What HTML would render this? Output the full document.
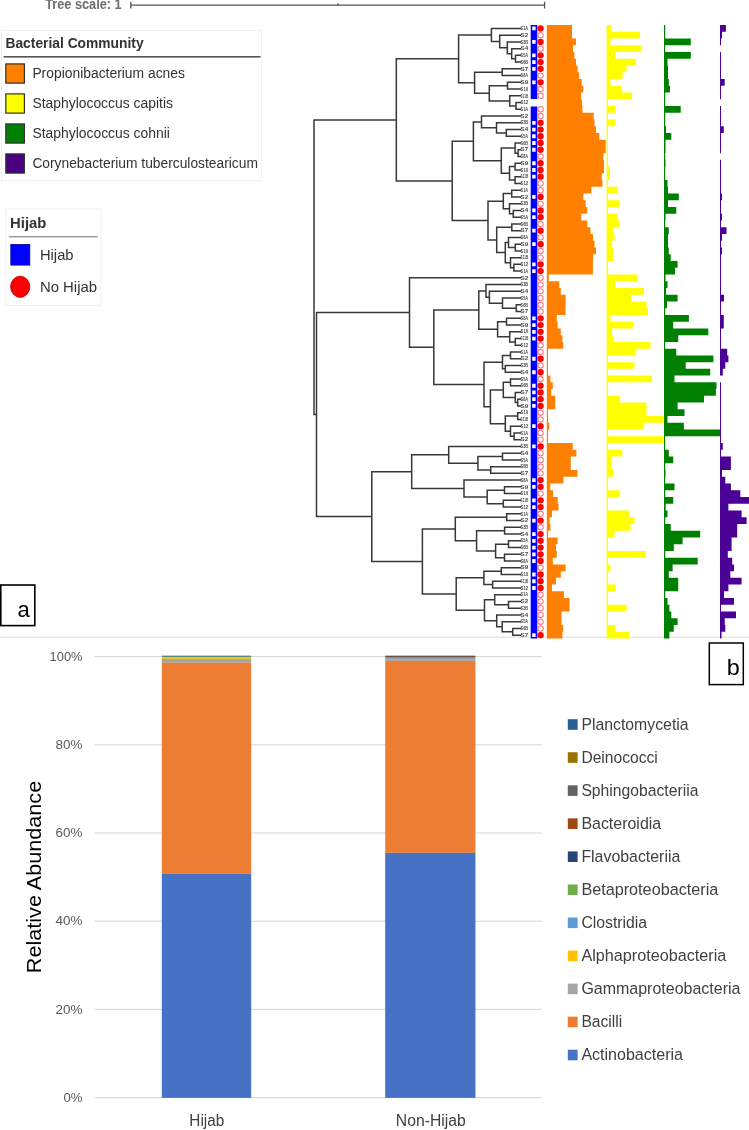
<!DOCTYPE html>
<html><head><meta charset="utf-8"><style>html,body{margin:0;padding:0;background:#fff;}body{width:749px;height:1130px;position:relative;overflow:hidden;}svg{position:absolute;left:0;top:0;display:block;}</style></head><body>
<svg width="749" height="1130" viewBox="0 0 749 1130" font-family="'Liberation Sans', sans-serif">
<rect x="0" y="636.6" width="749" height="1.1" fill="#e0e0e0"/>
<defs><filter id="bt" x="-2%" y="-2%" width="104%" height="104%"><feGaussianBlur stdDeviation="0.5"/></filter><filter id="bb" x="-2%" y="-2%" width="104%" height="104%"><feGaussianBlur stdDeviation="0.3"/></filter></defs>
<g filter="url(#bt)">
<path d="M130.5 5.2H545M130.8 1.8V8.6M544.6 1.8V8.6M338 3.2V6" stroke="#555" stroke-width="1.3" fill="none"/>
<text x="45.16" y="9.3" font-size="14" fill="#6e6e6e" font-weight="bold" textLength="76.48" lengthAdjust="spacingAndGlyphs" >Tree scale: 1</text>
<path d="M491.4 28.4H520.5M499.7 35.14H520.5M507.3 41.88H520.5M511.7 48.63H520.5M515.5 55.37H520.5M515.5 62.11H520.5M515.5 55.37V62.11M511.7 58.74H515.5M511.7 48.63V58.74M507.3 53.68H511.7M507.3 41.88V53.68M499.7 47.78H507.3M499.7 35.14V47.78M491.4 41.46H499.7M491.4 28.4V41.46M458.6 34.93H491.4M502.2 68.85H520.5M502.2 75.59H520.5M502.2 68.85V75.59M474.6 72.22H502.2M507.5 82.34H520.5M507.5 89.08H520.5M507.5 82.34V89.08M489.3 85.71H507.5M509.7 95.82H520.5M516 102.56H520.5M516 109.3H520.5M516 102.56V109.3M509.7 105.93H516M509.7 95.82V105.93M489.3 100.88H509.7M489.3 85.71V100.88M474.6 93.29H489.3M474.6 72.22V93.29M458.6 82.76H474.6M458.6 34.93V82.76M396.3 58.84H458.6M481.5 116.05H520.5M496.5 122.79H520.5M506.3 129.53H520.5M506.3 136.27H520.5M506.3 129.53V136.27M496.5 132.9H506.3M496.5 122.79V132.9M481.5 127.84H496.5M481.5 116.05V127.84M473.4 121.95H481.5M515.1 143.01H520.5M518.1 149.76H520.5M518.1 156.5H520.5M518.1 149.76V156.5M515.1 153.13H518.1M515.1 143.01V153.13M501.3 148.07H515.1M515.1 163.24H520.5M515.1 169.98H520.5M515.1 163.24V169.98M509.5 166.61H515.1M515.1 176.72H520.5M515.1 183.47H520.5M515.1 176.72V183.47M509.5 180.1H515.1M509.5 166.61V180.1M501.3 173.35H509.5M501.3 148.07V173.35M473.4 160.71H501.3M473.4 121.95V160.71M452.2 141.33H473.4M511.7 190.21H520.5M511.7 196.95H520.5M511.7 190.21V196.95M503.3 193.58H511.7M509.5 203.69H520.5M513.3 210.43H520.5M513.3 217.18H520.5M513.3 210.43V217.18M509.5 213.81H513.3M509.5 203.69V213.81M503.3 208.75H509.5M503.3 193.58V208.75M488 201.16H503.3M511.8 223.92H520.5M511.8 230.66H520.5M511.8 223.92V230.66M496.7 227.29H511.8M508.5 237.4H520.5M515.3 244.14H520.5M515.3 250.89H520.5M515.3 244.14V250.89M508.5 247.51H515.3M508.5 237.4V247.51M505.3 242.46H508.5M510.5 257.63H520.5M513.9 264.37H520.5M513.9 271.11H520.5M513.9 264.37V271.11M510.5 267.74H513.9M510.5 257.63V267.74M505.3 262.68H510.5M505.3 242.46V262.68M496.7 252.57H505.3M496.7 227.29V252.57M488 239.93H496.7M488 201.16V239.93M452.2 220.55H488M452.2 141.33V220.55M396.3 180.94H452.2M396.3 58.84V180.94M314 119.89H396.3M409.5 277.85H520.5M486 284.6H520.5M489.4 291.34H520.5M502.5 298.08H520.5M516.3 304.82H520.5M516.3 311.56H520.5M516.3 304.82V311.56M502.5 308.19H516.3M502.5 298.08V308.19M489.4 303.14H502.5M489.4 291.34V303.14M486 297.24H489.4M486 284.6V297.24M478.8 290.92H486M506.5 318.31H520.5M506.5 325.05H520.5M506.5 318.31V325.05M497.6 321.68H506.5M509.7 331.79H520.5M515.3 338.53H520.5M515.3 345.27H520.5M515.3 338.53V345.27M509.7 341.9H515.3M509.7 331.79V341.9M497.6 336.85H509.7M497.6 321.68V336.85M478.8 329.26H497.6M478.8 290.92V329.26M433.8 310.09H478.8M510.5 352.02H520.5M510.5 358.76H520.5M510.5 352.02V358.76M502.5 355.39H510.5M505.3 365.5H520.5M505.3 372.24H520.5M505.3 365.5V372.24M502.5 368.87H505.3M502.5 355.39V368.87M484 362.13H502.5M510.5 378.98H520.5M510.5 385.73H520.5M510.5 378.98V385.73M503.3 382.36H510.5M515.3 392.47H520.5M517.7 399.21H520.5M517.7 405.95H520.5M517.7 399.21V405.95M515.3 402.58H517.7M515.3 392.47V402.58M503.3 397.52H515.3M503.3 382.36V397.52M490.4 389.94H503.3M517.7 412.69H520.5M517.7 419.44H520.5M517.7 412.69V419.44M505.3 416.06H517.7M510.5 426.18H520.5M514.1 432.92H520.5M514.1 439.66H520.5M514.1 432.92V439.66M510.5 436.29H514.1M510.5 426.18V436.29M505.3 431.23H510.5M505.3 416.06V431.23M490.4 423.65H505.3M490.4 389.94V423.65M484 406.79H490.4M484 362.13V406.79M433.8 384.46H484M433.8 310.09V384.46M409.5 347.28H433.8M409.5 277.85V347.28M316.5 312.56H409.5M448.7 446.4H520.5M502.5 453.15H520.5M502.5 459.89H520.5M502.5 453.15V459.89M477.9 456.52H502.5M490.7 466.63H520.5M490.7 473.37H520.5M490.7 466.63V473.37M477.9 470H490.7M477.9 456.52V470M448.7 463.26H477.9M448.7 446.4V463.26M411.7 454.83H448.7M464 480.11H520.5M504.5 486.86H520.5M504.5 493.6H520.5M504.5 486.86V493.6M487.2 490.23H504.5M503.3 500.34H520.5M503.3 507.08H520.5M503.3 500.34V507.08M487.2 503.71H503.3M487.2 490.23V503.71M464 496.97H487.2M464 480.11V496.97M411.7 488.54H464M411.7 454.83V488.54M371.8 471.69H411.7M506.7 513.82H520.5M506.7 520.57H520.5M506.7 513.82V520.57M455.3 517.19H506.7M504.6 527.31H520.5M504.6 534.05H520.5M504.6 527.31V534.05M476.6 530.68H504.6M508.5 540.79H520.5M508.5 547.53H520.5M508.5 540.79V547.53M495.6 544.16H508.5M504.5 554.28H520.5M504.5 561.02H520.5M504.5 554.28V561.02M495.6 557.65H504.5M495.6 544.16V557.65M476.6 550.9H495.6M476.6 530.68V550.9M455.3 540.79H476.6M455.3 517.19V540.79M422.4 528.99H455.3M501.3 567.76H520.5M501.3 574.5H520.5M501.3 567.76V574.5M483.9 571.13H501.3M492.6 581.24H520.5M492.6 587.99H520.5M492.6 581.24V587.99M483.9 584.62H492.6M483.9 571.13V584.62M456.2 577.87H483.9M494.7 594.73H520.5M508.5 601.47H520.5M508.5 608.21H520.5M508.5 601.47V608.21M494.7 604.84H508.5M494.7 594.73V604.84M484.5 599.78H494.7M496.7 614.95H520.5M502.2 621.7H520.5M512.7 628.44H520.5M512.7 635.18H520.5M512.7 628.44V635.18M502.2 631.81H512.7M502.2 621.7V631.81M496.7 626.75H502.2M496.7 614.95V626.75M484.5 620.85H496.7M484.5 599.78V620.85M456.2 610.32H484.5M456.2 577.87V610.32M422.4 594.1H456.2M422.4 528.99V594.1M371.8 561.54H422.4M371.8 471.69V561.54M316.5 516.62H371.8M316.5 312.56V516.62M314 414.59H316.5M314 119.89V414.59" stroke="#383838" stroke-width="1.5" fill="none" stroke-linecap="square"/>
<g font-size="4.9" font-weight="bold" fill="#444c48"><text x="520.6" y="30.1" textLength="7.6" lengthAdjust="spacingAndGlyphs">S1A</text><text x="520.6" y="36.84" textLength="7.6" lengthAdjust="spacingAndGlyphs">S2</text><text x="520.6" y="43.58" textLength="7.6" lengthAdjust="spacingAndGlyphs">S3B</text><text x="520.6" y="50.33" textLength="7.6" lengthAdjust="spacingAndGlyphs">S4</text><text x="520.6" y="57.07" textLength="7.6" lengthAdjust="spacingAndGlyphs">S5A</text><text x="520.6" y="63.81" textLength="7.6" lengthAdjust="spacingAndGlyphs">S6B</text><text x="520.6" y="70.55" textLength="7.6" lengthAdjust="spacingAndGlyphs">S7</text><text x="520.6" y="77.29" textLength="7.6" lengthAdjust="spacingAndGlyphs">S8A</text><text x="520.6" y="84.04" textLength="7.6" lengthAdjust="spacingAndGlyphs">S9</text><text x="520.6" y="90.78" textLength="7.6" lengthAdjust="spacingAndGlyphs">S10</text><text x="520.6" y="97.52" textLength="7.6" lengthAdjust="spacingAndGlyphs">S11B</text><text x="520.6" y="104.26" textLength="7.6" lengthAdjust="spacingAndGlyphs">S12</text><text x="520.6" y="111" textLength="7.6" lengthAdjust="spacingAndGlyphs">S1A</text><text x="520.6" y="117.75" textLength="7.6" lengthAdjust="spacingAndGlyphs">S2</text><text x="520.6" y="124.49" textLength="7.6" lengthAdjust="spacingAndGlyphs">S3B</text><text x="520.6" y="131.23" textLength="7.6" lengthAdjust="spacingAndGlyphs">S4</text><text x="520.6" y="137.97" textLength="7.6" lengthAdjust="spacingAndGlyphs">S5A</text><text x="520.6" y="144.71" textLength="7.6" lengthAdjust="spacingAndGlyphs">S6B</text><text x="520.6" y="151.46" textLength="7.6" lengthAdjust="spacingAndGlyphs">S7</text><text x="520.6" y="158.2" textLength="7.6" lengthAdjust="spacingAndGlyphs">S8A</text><text x="520.6" y="164.94" textLength="7.6" lengthAdjust="spacingAndGlyphs">S9</text><text x="520.6" y="171.68" textLength="7.6" lengthAdjust="spacingAndGlyphs">S10</text><text x="520.6" y="178.42" textLength="7.6" lengthAdjust="spacingAndGlyphs">S11B</text><text x="520.6" y="185.17" textLength="7.6" lengthAdjust="spacingAndGlyphs">S12</text><text x="520.6" y="191.91" textLength="7.6" lengthAdjust="spacingAndGlyphs">S1A</text><text x="520.6" y="198.65" textLength="7.6" lengthAdjust="spacingAndGlyphs">S2</text><text x="520.6" y="205.39" textLength="7.6" lengthAdjust="spacingAndGlyphs">S3B</text><text x="520.6" y="212.13" textLength="7.6" lengthAdjust="spacingAndGlyphs">S4</text><text x="520.6" y="218.88" textLength="7.6" lengthAdjust="spacingAndGlyphs">S5A</text><text x="520.6" y="225.62" textLength="7.6" lengthAdjust="spacingAndGlyphs">S6B</text><text x="520.6" y="232.36" textLength="7.6" lengthAdjust="spacingAndGlyphs">S7</text><text x="520.6" y="239.1" textLength="7.6" lengthAdjust="spacingAndGlyphs">S8A</text><text x="520.6" y="245.84" textLength="7.6" lengthAdjust="spacingAndGlyphs">S9</text><text x="520.6" y="252.59" textLength="7.6" lengthAdjust="spacingAndGlyphs">S10</text><text x="520.6" y="259.33" textLength="7.6" lengthAdjust="spacingAndGlyphs">S11B</text><text x="520.6" y="266.07" textLength="7.6" lengthAdjust="spacingAndGlyphs">S12</text><text x="520.6" y="272.81" textLength="7.6" lengthAdjust="spacingAndGlyphs">S1A</text><text x="520.6" y="279.55" textLength="7.6" lengthAdjust="spacingAndGlyphs">S2</text><text x="520.6" y="286.3" textLength="7.6" lengthAdjust="spacingAndGlyphs">S3B</text><text x="520.6" y="293.04" textLength="7.6" lengthAdjust="spacingAndGlyphs">S4</text><text x="520.6" y="299.78" textLength="7.6" lengthAdjust="spacingAndGlyphs">S5A</text><text x="520.6" y="306.52" textLength="7.6" lengthAdjust="spacingAndGlyphs">S6B</text><text x="520.6" y="313.26" textLength="7.6" lengthAdjust="spacingAndGlyphs">S7</text><text x="520.6" y="320.01" textLength="7.6" lengthAdjust="spacingAndGlyphs">S8A</text><text x="520.6" y="326.75" textLength="7.6" lengthAdjust="spacingAndGlyphs">S9</text><text x="520.6" y="333.49" textLength="7.6" lengthAdjust="spacingAndGlyphs">S10</text><text x="520.6" y="340.23" textLength="7.6" lengthAdjust="spacingAndGlyphs">S11B</text><text x="520.6" y="346.97" textLength="7.6" lengthAdjust="spacingAndGlyphs">S12</text><text x="520.6" y="353.72" textLength="7.6" lengthAdjust="spacingAndGlyphs">S1A</text><text x="520.6" y="360.46" textLength="7.6" lengthAdjust="spacingAndGlyphs">S2</text><text x="520.6" y="367.2" textLength="7.6" lengthAdjust="spacingAndGlyphs">S3B</text><text x="520.6" y="373.94" textLength="7.6" lengthAdjust="spacingAndGlyphs">S4</text><text x="520.6" y="380.68" textLength="7.6" lengthAdjust="spacingAndGlyphs">S5A</text><text x="520.6" y="387.43" textLength="7.6" lengthAdjust="spacingAndGlyphs">S6B</text><text x="520.6" y="394.17" textLength="7.6" lengthAdjust="spacingAndGlyphs">S7</text><text x="520.6" y="400.91" textLength="7.6" lengthAdjust="spacingAndGlyphs">S8A</text><text x="520.6" y="407.65" textLength="7.6" lengthAdjust="spacingAndGlyphs">S9</text><text x="520.6" y="414.39" textLength="7.6" lengthAdjust="spacingAndGlyphs">S10</text><text x="520.6" y="421.14" textLength="7.6" lengthAdjust="spacingAndGlyphs">S11B</text><text x="520.6" y="427.88" textLength="7.6" lengthAdjust="spacingAndGlyphs">S12</text><text x="520.6" y="434.62" textLength="7.6" lengthAdjust="spacingAndGlyphs">S1A</text><text x="520.6" y="441.36" textLength="7.6" lengthAdjust="spacingAndGlyphs">S2</text><text x="520.6" y="448.1" textLength="7.6" lengthAdjust="spacingAndGlyphs">S3B</text><text x="520.6" y="454.85" textLength="7.6" lengthAdjust="spacingAndGlyphs">S4</text><text x="520.6" y="461.59" textLength="7.6" lengthAdjust="spacingAndGlyphs">S5A</text><text x="520.6" y="468.33" textLength="7.6" lengthAdjust="spacingAndGlyphs">S6B</text><text x="520.6" y="475.07" textLength="7.6" lengthAdjust="spacingAndGlyphs">S7</text><text x="520.6" y="481.81" textLength="7.6" lengthAdjust="spacingAndGlyphs">S8A</text><text x="520.6" y="488.56" textLength="7.6" lengthAdjust="spacingAndGlyphs">S9</text><text x="520.6" y="495.3" textLength="7.6" lengthAdjust="spacingAndGlyphs">S10</text><text x="520.6" y="502.04" textLength="7.6" lengthAdjust="spacingAndGlyphs">S11B</text><text x="520.6" y="508.78" textLength="7.6" lengthAdjust="spacingAndGlyphs">S12</text><text x="520.6" y="515.52" textLength="7.6" lengthAdjust="spacingAndGlyphs">S1A</text><text x="520.6" y="522.27" textLength="7.6" lengthAdjust="spacingAndGlyphs">S2</text><text x="520.6" y="529.01" textLength="7.6" lengthAdjust="spacingAndGlyphs">S3B</text><text x="520.6" y="535.75" textLength="7.6" lengthAdjust="spacingAndGlyphs">S4</text><text x="520.6" y="542.49" textLength="7.6" lengthAdjust="spacingAndGlyphs">S5A</text><text x="520.6" y="549.23" textLength="7.6" lengthAdjust="spacingAndGlyphs">S6B</text><text x="520.6" y="555.98" textLength="7.6" lengthAdjust="spacingAndGlyphs">S7</text><text x="520.6" y="562.72" textLength="7.6" lengthAdjust="spacingAndGlyphs">S8A</text><text x="520.6" y="569.46" textLength="7.6" lengthAdjust="spacingAndGlyphs">S9</text><text x="520.6" y="576.2" textLength="7.6" lengthAdjust="spacingAndGlyphs">S10</text><text x="520.6" y="582.94" textLength="7.6" lengthAdjust="spacingAndGlyphs">S11B</text><text x="520.6" y="589.69" textLength="7.6" lengthAdjust="spacingAndGlyphs">S12</text><text x="520.6" y="596.43" textLength="7.6" lengthAdjust="spacingAndGlyphs">S1A</text><text x="520.6" y="603.17" textLength="7.6" lengthAdjust="spacingAndGlyphs">S2</text><text x="520.6" y="609.91" textLength="7.6" lengthAdjust="spacingAndGlyphs">S3B</text><text x="520.6" y="616.65" textLength="7.6" lengthAdjust="spacingAndGlyphs">S4</text><text x="520.6" y="623.4" textLength="7.6" lengthAdjust="spacingAndGlyphs">S5A</text><text x="520.6" y="630.14" textLength="7.6" lengthAdjust="spacingAndGlyphs">S6B</text><text x="520.6" y="636.88" textLength="7.6" lengthAdjust="spacingAndGlyphs">S7</text></g>
<path d="M530.7 25.03H537.3V98.89H530.7ZM530.7 106.53H537.3V638.55H530.7Z" fill="#0000ff"/>
<path d="M532.2 26.5h3.4v3.8h-3.4zM532.2 39.98h3.4v3.8h-3.4zM532.2 53.47h3.4v3.8h-3.4zM532.2 60.21h3.4v3.8h-3.4zM532.2 66.95h3.4v3.8h-3.4zM532.2 80.44h3.4v3.8h-3.4zM532.2 120.89h3.4v3.8h-3.4zM532.2 127.63h3.4v3.8h-3.4zM532.2 134.37h3.4v3.8h-3.4zM532.2 141.11h3.4v3.8h-3.4zM532.2 147.86h3.4v3.8h-3.4zM532.2 161.34h3.4v3.8h-3.4zM532.2 168.08h3.4v3.8h-3.4zM532.2 174.82h3.4v3.8h-3.4zM532.2 195.05h3.4v3.8h-3.4zM532.2 208.53h3.4v3.8h-3.4zM532.2 215.28h3.4v3.8h-3.4zM532.2 228.76h3.4v3.8h-3.4zM532.2 242.24h3.4v3.8h-3.4zM532.2 262.47h3.4v3.8h-3.4zM532.2 269.21h3.4v3.8h-3.4zM532.2 316.41h3.4v3.8h-3.4zM532.2 323.15h3.4v3.8h-3.4zM532.2 329.89h3.4v3.8h-3.4zM532.2 336.63h3.4v3.8h-3.4zM532.2 356.86h3.4v3.8h-3.4zM532.2 370.34h3.4v3.8h-3.4zM532.2 383.83h3.4v3.8h-3.4zM532.2 390.57h3.4v3.8h-3.4zM532.2 397.31h3.4v3.8h-3.4zM532.2 404.05h3.4v3.8h-3.4zM532.2 424.28h3.4v3.8h-3.4zM532.2 444.5h3.4v3.8h-3.4zM532.2 478.21h3.4v3.8h-3.4zM532.2 484.96h3.4v3.8h-3.4zM532.2 498.44h3.4v3.8h-3.4zM532.2 505.18h3.4v3.8h-3.4zM532.2 518.67h3.4v3.8h-3.4zM532.2 532.15h3.4v3.8h-3.4zM532.2 538.89h3.4v3.8h-3.4zM532.2 545.63h3.4v3.8h-3.4zM532.2 552.38h3.4v3.8h-3.4zM532.2 559.12h3.4v3.8h-3.4zM532.2 572.6h3.4v3.8h-3.4zM532.2 579.34h3.4v3.8h-3.4zM532.2 586.09h3.4v3.8h-3.4zM532.2 633.28h3.4v3.8h-3.4z" fill="#fff"/>
<g fill="#fff" stroke="#ff7a85" stroke-width="1.1"><circle cx="540.6" cy="35.14" r="2.65"/><circle cx="540.6" cy="48.63" r="2.65"/><circle cx="540.6" cy="75.59" r="2.65"/><circle cx="540.6" cy="89.08" r="2.65"/><circle cx="540.6" cy="95.82" r="2.65"/><circle cx="540.6" cy="109.3" r="2.65"/><circle cx="540.6" cy="116.05" r="2.65"/><circle cx="540.6" cy="156.5" r="2.65"/><circle cx="540.6" cy="183.47" r="2.65"/><circle cx="540.6" cy="190.21" r="2.65"/><circle cx="540.6" cy="203.69" r="2.65"/><circle cx="540.6" cy="223.92" r="2.65"/><circle cx="540.6" cy="237.4" r="2.65"/><circle cx="540.6" cy="250.89" r="2.65"/><circle cx="540.6" cy="257.63" r="2.65"/><circle cx="540.6" cy="277.85" r="2.65"/><circle cx="540.6" cy="284.6" r="2.65"/><circle cx="540.6" cy="291.34" r="2.65"/><circle cx="540.6" cy="298.08" r="2.65"/><circle cx="540.6" cy="304.82" r="2.65"/><circle cx="540.6" cy="311.56" r="2.65"/><circle cx="540.6" cy="345.27" r="2.65"/><circle cx="540.6" cy="352.02" r="2.65"/><circle cx="540.6" cy="365.5" r="2.65"/><circle cx="540.6" cy="378.98" r="2.65"/><circle cx="540.6" cy="412.69" r="2.65"/><circle cx="540.6" cy="419.44" r="2.65"/><circle cx="540.6" cy="432.92" r="2.65"/><circle cx="540.6" cy="439.66" r="2.65"/><circle cx="540.6" cy="453.15" r="2.65"/><circle cx="540.6" cy="459.89" r="2.65"/><circle cx="540.6" cy="466.63" r="2.65"/><circle cx="540.6" cy="473.37" r="2.65"/><circle cx="540.6" cy="493.6" r="2.65"/><circle cx="540.6" cy="513.82" r="2.65"/><circle cx="540.6" cy="527.31" r="2.65"/><circle cx="540.6" cy="567.76" r="2.65"/><circle cx="540.6" cy="594.73" r="2.65"/><circle cx="540.6" cy="601.47" r="2.65"/><circle cx="540.6" cy="608.21" r="2.65"/><circle cx="540.6" cy="614.95" r="2.65"/><circle cx="540.6" cy="621.7" r="2.65"/><circle cx="540.6" cy="628.44" r="2.65"/></g>
<g fill="#ff0000"><circle cx="540.6" cy="28.4" r="3.15"/><circle cx="540.6" cy="41.88" r="3.15"/><circle cx="540.6" cy="55.37" r="3.15"/><circle cx="540.6" cy="62.11" r="3.15"/><circle cx="540.6" cy="68.85" r="3.15"/><circle cx="540.6" cy="82.34" r="3.15"/><circle cx="540.6" cy="122.79" r="3.15"/><circle cx="540.6" cy="129.53" r="3.15"/><circle cx="540.6" cy="136.27" r="3.15"/><circle cx="540.6" cy="143.01" r="3.15"/><circle cx="540.6" cy="149.76" r="3.15"/><circle cx="540.6" cy="163.24" r="3.15"/><circle cx="540.6" cy="169.98" r="3.15"/><circle cx="540.6" cy="176.72" r="3.15"/><circle cx="540.6" cy="196.95" r="3.15"/><circle cx="540.6" cy="210.43" r="3.15"/><circle cx="540.6" cy="217.18" r="3.15"/><circle cx="540.6" cy="230.66" r="3.15"/><circle cx="540.6" cy="244.14" r="3.15"/><circle cx="540.6" cy="264.37" r="3.15"/><circle cx="540.6" cy="271.11" r="3.15"/><circle cx="540.6" cy="318.31" r="3.15"/><circle cx="540.6" cy="325.05" r="3.15"/><circle cx="540.6" cy="331.79" r="3.15"/><circle cx="540.6" cy="338.53" r="3.15"/><circle cx="540.6" cy="358.76" r="3.15"/><circle cx="540.6" cy="372.24" r="3.15"/><circle cx="540.6" cy="385.73" r="3.15"/><circle cx="540.6" cy="392.47" r="3.15"/><circle cx="540.6" cy="399.21" r="3.15"/><circle cx="540.6" cy="405.95" r="3.15"/><circle cx="540.6" cy="426.18" r="3.15"/><circle cx="540.6" cy="446.4" r="3.15"/><circle cx="540.6" cy="480.11" r="3.15"/><circle cx="540.6" cy="486.86" r="3.15"/><circle cx="540.6" cy="500.34" r="3.15"/><circle cx="540.6" cy="507.08" r="3.15"/><circle cx="540.6" cy="520.57" r="3.15"/><circle cx="540.6" cy="534.05" r="3.15"/><circle cx="540.6" cy="540.79" r="3.15"/><circle cx="540.6" cy="547.53" r="3.15"/><circle cx="540.6" cy="554.28" r="3.15"/><circle cx="540.6" cy="561.02" r="3.15"/><circle cx="540.6" cy="574.5" r="3.15"/><circle cx="540.6" cy="581.24" r="3.15"/><circle cx="540.6" cy="587.99" r="3.15"/><circle cx="540.6" cy="635.18" r="3.15"/></g>
<path d="M546.8 25.03H572V31.77H572V38.51H576V45.26H573V52H574.4V58.74H576V65.48H577.6V72.22H579V78.96H581.7V85.71H583.3V92.45H581V99.19H582V105.93H582.5V112.67H593.7V119.42H594.5V126.16H596V132.9H599.3V139.64H605.7V146.39H605.7V153.13H603.3V159.87H604V166.61H604V173.35H601.7V180.1H602.5V186.84H591.3V193.58H583.3V200.32H585.7V207.06H587.3V213.81H581.3V220.55H587.3V227.29H590.5V234.03H593V240.77H594.5V247.52H596V254.26H593V261H592.9V267.74H592.9V274.48H548.8V281.22H559.2V287.97H560.8V294.71H565.6V301.45H565.6V308.19H565.6V314.93H556.8V321.68H557.6V328.42H560.8V335.16H562.4V341.9H563.2V348.64H548V355.39H548V362.13H548V368.87H548V375.61H550.4V382.35H552.8V389.1H551.2V395.84H555.2V402.58H555.2V409.32H548V416.06H548V422.81H549.3V429.55H548V436.29H548V443.03H572.7V449.77H576.4V456.52H570.8V463.26H570.8V470H577.4V476.74H563.4V483.48H550.3V490.23H553V496.97H557.7V503.71H558.5V510.45H552V517.19H549.6V523.94H550.4V530.68H548V537.42H557.6V544.16H556V550.9H556.8V557.65H552.8V564.39H565.6V571.13H560.8V577.87H556V584.62H552V591.36H564V598.1H569.6V604.84H569.6V611.58H561.6V618.32H561.6V625.07H563.2V631.81H562.4V638.55H546.8Z" fill="#ff8000"/>
<path d="M606.6 25.03H611.3V31.77H640V38.51H610.5V45.26H641V52H615.3V58.74H636V65.48H626.5V72.22H622.5V78.96H610.5V85.71H621.7V92.45H632V99.19H608V105.93H615V112.67H608V119.42H615V126.16H608V132.9H608V139.64H608V146.39H608V153.13H608V159.87H608V166.61H610V173.35H610V180.1H608V186.84H617.7V193.58H608V200.32H619.3V207.06H608V213.81H617.7V220.55H619.3V227.29H613V234.03H614.5V240.77H612V247.52H613V254.26H613V261H608V267.74H608V274.48H637V281.22H615.3V287.97H644V294.71H631.3V301.45H646.5V308.19H648V314.93H610.5V321.68H633V328.42H612V335.16H613.7V341.9H650.5V348.64H636.1V355.39H608V362.13H634.5V368.87H608V375.61H652V382.35H608V389.1H608V395.84H620V402.58H646.5V409.32H646.5V416.06H663.4V422.81H643.7V429.55H608V436.29H663.4V443.03H608V449.77H622.2V456.52H611V463.26H612V470H613V476.74H608V483.48H608V490.23H619.4V496.97H608V503.71H608V510.45H629V517.19H634.5V523.94H630.5V530.68H614.5V537.42H608V544.16H608V550.9H645.7V557.65H608V564.39H610.5V571.13H608V577.87H608V584.62H615.3V591.36H608V598.1H608V604.84H626.5V611.58H608V618.32H608V625.07H615.3V631.81H629V638.55H606.6Z" fill="#ffff00"/>
<path d="M664 25.03H665.2V31.77H665.2V38.51H690.8V45.26H665.2V52H690.8V58.74H667.5V65.48H668V72.22H668V78.96H668.8V85.71H670V92.45H665.2V99.19H665.2V105.93H680.7V112.67H665.2V119.42H665.2V126.16H666V132.9H671.3V139.64H665.5V146.39H665.5V153.13H665.2V159.87H665.5V166.61H665.2V173.35H665.2V180.1H667.5V186.84H668V193.58H678.8V200.32H668V207.06H676.3V213.81H665.5V220.55H665.2V227.29H668.8V234.03H668V240.77H668V247.52H668.8V254.26H670.7V261H677.6V267.74H675V274.48H665.5V281.22H667.5V287.97H666V294.71H677.6V301.45H667V308.19H665.2V314.93H688.9V321.68H673.2V328.42H708.3V335.16H678.2V341.9H665.2V348.64H676.3V355.39H713.4V362.13H685.7V368.87H710.2V375.61H674.5V382.35H716.5V389.1H715.9V395.84H704V402.58H677.6V409.32H684.5V416.06H667.5V422.81H683.9V429.55H720.9V436.29H665.2V443.03H665.2V449.77H668.8V456.52H673.2V463.26H665.2V470H665.5V476.74H665.2V483.48H674.5V490.23H665.2V496.97H673.2V503.71H665.7V510.45H667.5V517.19H665.2V523.94H670.7V530.68H700.2V537.42H682.6V544.16H673.8V550.9H665.2V557.65H697.7V564.39H672.6V571.13H668.8V577.87H678.2V584.62H678.2V591.36H665.2V598.1H667.5V604.84H669.4V611.58H671.3V618.32H677.6V625.07H673.8V631.81H669.4V638.55H664Z" fill="#008000"/>
<path d="M720 25.03H725.9V31.77H722V38.51H721V45.26H720ZM720 52H721V58.74H721V65.48H721V72.22H721V78.96H724.7V85.71H721V92.45H721V99.19H720ZM720 105.93H721V112.67H721V119.42H721V126.16H723.8V132.9H721V139.64H721V146.39H721V153.13H720ZM720 159.87H721V166.61H721V173.35H721V180.1H721V186.84H721V193.58H722V200.32H721V207.06H721V213.81H722V220.55H721V227.29H726.5V234.03H722V240.77H721V247.52H722V254.26H721V261H721V267.74H721V274.48H721V281.22H721V287.97H721V294.71H724V301.45H721V308.19H721V314.93H723.8V321.68H723.8V328.42H721V335.16H721V341.9H721V348.64H727.2V355.39H728.4V362.13H725.3V368.87H722.8V375.61H720ZM720 382.36H721V389.1H721V395.84H721V402.58H721V409.32H721V416.06H721V422.81H721V429.55H721V436.29H721V443.03H722.8V449.77H721V456.52H730.9V463.26H730.9V470H722V476.74H725.3V483.48H730.9V490.23H740.3V496.97H749V503.71H728.4V510.45H741.6V517.19H746.6V523.94H737.2V530.68H737.2V537.42H731.6V544.16H731.6V550.9H727.8V557.65H732.2V564.39H734V571.13H730.3V577.87H741.6V584.62H728.4V591.36H724V598.1H734V604.84H721V611.58H736V618.32H724.7V625.07H725.3V631.81H721.5V638.55H720Z" fill="#4b0096"/>
<rect x="1.5" y="30.5" width="260" height="150" fill="none" stroke="#f0f0f0" stroke-width="1"/>
<text x="5.48" y="47.7" font-size="15.3" fill="#333" font-weight="bold" textLength="138.14" lengthAdjust="spacingAndGlyphs" >Bacterial Community</text>
<rect x="3.5" y="56" width="257" height="1.6" fill="#555"/>
<rect x="5.8" y="63.9" width="18.6" height="19.2" fill="#ff8000" stroke="#333" stroke-width="1.2"/>
<text x="32.38" y="77.6" font-size="15.3" fill="#333" font-weight="normal" textLength="152.54" lengthAdjust="spacingAndGlyphs" >Propionibacterium acnes</text>
<rect x="5.8" y="93.9" width="18.6" height="19.2" fill="#ffff00" stroke="#333" stroke-width="1.2"/>
<text x="32.38" y="107.6" font-size="15.3" fill="#333" font-weight="normal" textLength="140.54" lengthAdjust="spacingAndGlyphs" >Staphylococcus capitis</text>
<rect x="5.8" y="123.9" width="18.6" height="19.2" fill="#008000" stroke="#333" stroke-width="1.2"/>
<text x="32.38" y="137.6" font-size="15.3" fill="#333" font-weight="normal" textLength="137.54" lengthAdjust="spacingAndGlyphs" >Staphylococcus cohnii</text>
<rect x="5.8" y="153.9" width="18.6" height="19.2" fill="#4b0082" stroke="#333" stroke-width="1.2"/>
<text x="32.38" y="167.6" font-size="15.3" fill="#333" font-weight="normal" textLength="225.54" lengthAdjust="spacingAndGlyphs" >Corynebacterium tuberculostearicum</text>
<rect x="6" y="209" width="95" height="96.5" fill="none" stroke="#f0f0f0" stroke-width="1"/>
<text x="10.12" y="227.6" font-size="14.7" fill="#333" font-weight="bold" textLength="36.26" lengthAdjust="spacingAndGlyphs" >Hijab</text>
<rect x="8.8" y="236" width="89" height="1.4" fill="#9a9a9a"/>
<rect x="10.8" y="244.5" width="19" height="20.6" fill="#0000ff" stroke="#0000a0" stroke-width="0.8"/>
<ellipse cx="20.2" cy="286.8" rx="9.6" ry="10.6" fill="#ff0000" stroke="#b00000" stroke-width="0.8"/>
<text x="39.9" y="260" font-size="15" fill="#333" font-weight="normal" textLength="33.7" lengthAdjust="spacingAndGlyphs" >Hijab</text>
<text x="39.9" y="291.8" font-size="15" fill="#333" font-weight="normal" textLength="57.2" lengthAdjust="spacingAndGlyphs" >No Hijab</text>
<rect x="0.8" y="585" width="34" height="40.6" fill="#fff" stroke="#000" stroke-width="1.6"/>
<text x="17.45" y="617" font-size="22.5" fill="#000" font-weight="normal" textLength="12.3" lengthAdjust="spacingAndGlyphs" >a</text>
<rect x="709.3" y="643" width="34" height="41.6" fill="#fff" stroke="#000" stroke-width="1.5"/>
<text x="726.65" y="675.2" font-size="22.5" fill="#000" font-weight="normal" textLength="13" lengthAdjust="spacingAndGlyphs" >b</text>
</g><g filter="url(#bb)">
<rect x="94.5" y="1097.05" width="447.5" height="1.1" fill="#d9d9d9"/>
<rect x="94.5" y="1008.85" width="447.5" height="1.1" fill="#d9d9d9"/>
<rect x="94.5" y="920.65" width="447.5" height="1.1" fill="#d9d9d9"/>
<rect x="94.5" y="832.45" width="447.5" height="1.1" fill="#d9d9d9"/>
<rect x="94.5" y="744.25" width="447.5" height="1.1" fill="#d9d9d9"/>
<rect x="94.5" y="656.05" width="447.5" height="1.1" fill="#d9d9d9"/>
<rect x="161.8" y="873.6" width="89.4" height="224.25" fill="#4472c4"/><rect x="161.8" y="662.3" width="89.4" height="211.55" fill="#ed7d31"/><rect x="161.8" y="658.5" width="89.4" height="4.05" fill="#a5a5a5"/><rect x="161.8" y="656.8" width="89.4" height="1.95" fill="#ffc000"/><rect x="161.8" y="656.2" width="89.4" height="0.85" fill="#70ad47"/><rect x="161.8" y="655.7" width="89.4" height="0.75" fill="#255e91"/>
<rect x="385.2" y="852.5" width="90.2" height="245.35" fill="#4472c4"/><rect x="385.2" y="660.4" width="90.2" height="192.35" fill="#ed7d31"/><rect x="385.2" y="658.2" width="90.2" height="2.45" fill="#a5a5a5"/><rect x="385.2" y="656.8" width="90.2" height="1.65" fill="#5b9bd5"/><rect x="385.2" y="656.2" width="90.2" height="0.85" fill="#9e480e"/><rect x="385.2" y="655.7" width="90.2" height="0.75" fill="#404040"/>
<text x="63.51" y="1101.7" font-size="13.2" fill="#595959" font-weight="normal" textLength="18.98" lengthAdjust="spacingAndGlyphs" >0%</text>
<text x="55.51" y="1013.5" font-size="13.2" fill="#595959" font-weight="normal" textLength="26.98" lengthAdjust="spacingAndGlyphs" >20%</text>
<text x="55.51" y="925.3" font-size="13.2" fill="#595959" font-weight="normal" textLength="26.98" lengthAdjust="spacingAndGlyphs" >40%</text>
<text x="55.51" y="837.1" font-size="13.2" fill="#595959" font-weight="normal" textLength="26.98" lengthAdjust="spacingAndGlyphs" >60%</text>
<text x="55.51" y="748.9" font-size="13.2" fill="#595959" font-weight="normal" textLength="26.98" lengthAdjust="spacingAndGlyphs" >80%</text>
<text x="49.61" y="660.7" font-size="13.2" fill="#595959" font-weight="normal" textLength="32.88" lengthAdjust="spacingAndGlyphs" >100%</text>
<text x="189.36" y="1126.4" font-size="15.6" fill="#404040" font-weight="normal" textLength="34.87" lengthAdjust="spacingAndGlyphs" >Hijab</text>
<text x="395.86" y="1126.4" font-size="15.6" fill="#404040" font-weight="normal" textLength="69.87" lengthAdjust="spacingAndGlyphs" >Non-Hijab</text>
<g transform="translate(41 972) rotate(-90)"><text x="-1.2" y="0" font-size="20" fill="#000" font-weight="normal" textLength="192.4" lengthAdjust="spacingAndGlyphs" >Relative Abundance</text></g>
<rect x="567.8" y="719.2" width="9.8" height="10.6" fill="#255e91"/>
<text x="581.39" y="729.8" font-size="16.8" fill="#404040" font-weight="normal" textLength="107.22" lengthAdjust="spacingAndGlyphs" >Planctomycetia</text>
<rect x="567.8" y="752.25" width="9.8" height="10.6" fill="#997300"/>
<text x="581.39" y="762.85" font-size="16.8" fill="#404040" font-weight="normal" textLength="76.42" lengthAdjust="spacingAndGlyphs" >Deinococci</text>
<rect x="567.8" y="785.3" width="9.8" height="10.6" fill="#636363"/>
<text x="581.39" y="795.9" font-size="16.8" fill="#404040" font-weight="normal" textLength="117.02" lengthAdjust="spacingAndGlyphs" >Sphingobacteriia</text>
<rect x="567.8" y="818.35" width="9.8" height="10.6" fill="#9e480e"/>
<text x="581.39" y="828.95" font-size="16.8" fill="#404040" font-weight="normal" textLength="79.82" lengthAdjust="spacingAndGlyphs" >Bacteroidia</text>
<rect x="567.8" y="851.4" width="9.8" height="10.6" fill="#264478"/>
<text x="581.39" y="862" font-size="16.8" fill="#404040" font-weight="normal" textLength="98.92" lengthAdjust="spacingAndGlyphs" >Flavobacteriia</text>
<rect x="567.8" y="884.45" width="9.8" height="10.6" fill="#70ad47"/>
<text x="581.39" y="895.05" font-size="16.8" fill="#404040" font-weight="normal" textLength="136.92" lengthAdjust="spacingAndGlyphs" >Betaproteobacteria</text>
<rect x="567.8" y="917.5" width="9.8" height="10.6" fill="#5b9bd5"/>
<text x="581.39" y="928.1" font-size="16.8" fill="#404040" font-weight="normal" textLength="65.72" lengthAdjust="spacingAndGlyphs" >Clostridia</text>
<rect x="567.8" y="950.55" width="9.8" height="10.6" fill="#ffc000"/>
<text x="581.39" y="961.15" font-size="16.8" fill="#404040" font-weight="normal" textLength="144.92" lengthAdjust="spacingAndGlyphs" >Alphaproteobacteria</text>
<rect x="567.8" y="983.6" width="9.8" height="10.6" fill="#a5a5a5"/>
<text x="581.39" y="994.2" font-size="16.8" fill="#404040" font-weight="normal" textLength="159.02" lengthAdjust="spacingAndGlyphs" >Gammaproteobacteria</text>
<rect x="567.8" y="1016.65" width="9.8" height="10.6" fill="#ed7d31"/>
<text x="581.39" y="1027.25" font-size="16.8" fill="#404040" font-weight="normal" textLength="40.82" lengthAdjust="spacingAndGlyphs" >Bacilli</text>
<rect x="567.8" y="1049.7" width="9.8" height="10.6" fill="#4472c4"/>
<text x="581.39" y="1060.3" font-size="16.8" fill="#404040" font-weight="normal" textLength="101.62" lengthAdjust="spacingAndGlyphs" >Actinobacteria</text>
</g>
</svg>
</body></html>
